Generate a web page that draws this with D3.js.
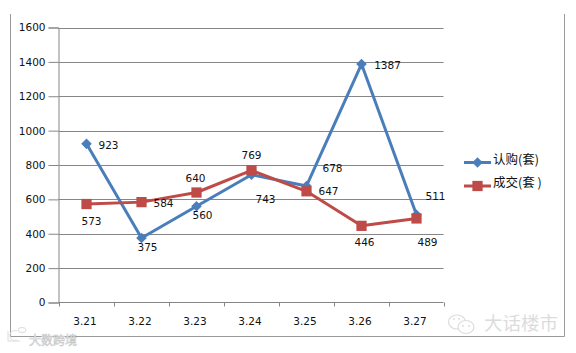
<!DOCTYPE html>
<html>
<head>
<meta charset="utf-8">
<script src="https://cdn.jsdelivr.net/npm/d3@7"></script>
<style>
body { margin: 0; background: #fff; }
text { font-family: "DejaVu Sans", sans-serif; font-size: 10.5px; fill: #111; }
.legend text { font-family: "Noto Sans CJK SC", sans-serif; font-size: 12.5px; }
.mark text { font-family: "Noto Sans CJK SC", sans-serif; }
</style>
</head>
<body>
<svg id="chart" width="576" height="353"></svg>
<script>
const categories = ["3.21", "3.22", "3.23", "3.24", "3.25", "3.26", "3.27"];
const renGou = [923, 375, 560, 743, 678, 1387, 511];
const chengJiao = [573, 584, 640, 769, 647, 446, 489];
const yTicks = [0, 200, 400, 600, 800, 1000, 1200, 1400, 1600];
const seriesNames = ["认购(套)", "成交(套 )"];

// label offsets from the point, placed by hand like the original
const renGouOffsets = [[22, 1], [6, 9], [6, 9], [14, 25], [26, -18], [26, 1.5], [19, -18]];
const chengJiaoOffsets = [[5, 17], [22, 1], [-1, -14.5], [0, -15], [22, 0], [3, 16], [11, 24]];

const margin = {top: 27.5, left: 58.5, right: 132.5, bottom: 50.5};
const width = 576, height = 353;
const blue = "#4a7ebb", red = "#be4b48", grey = "#868686", markGrey = "#dcdcdc";

const svg = d3.select("#chart");

const xScale = d3.scaleBand()
    .domain(categories)
    .range([margin.left, width - margin.right]);

const yScale = d3.scaleLinear()
    .domain([0, 1600])
    .range([height - margin.bottom, margin.top]);

const cx = i => xScale(categories[i]) + xScale.bandwidth() / 2 + 0.5;

// outer frame, top side is missing in the picture
svg.append("path")
    .attr("d", "M10.5,14V336.5H564.5V14")
    .attr("fill", "none")
    .attr("stroke", "#9a9a9a");

svg.append("g")
    .selectAll("line")
    .data(yTicks.slice(1))
    .enter()
    .append("line")
    .attr("x1", margin.left)
    .attr("x2", width - margin.right)
    .attr("y1", d => Math.round(yScale(d)) + 0.5)
    .attr("y2", d => Math.round(yScale(d)) + 0.5)
    .attr("stroke", grey);

const yAxis = svg.append("g")
    .attr("transform", `translate(${margin.left},0)`)
    .call(d3.axisLeft(yScale).tickValues(yTicks).tickFormat(d3.format("d")).tickSize(10).tickPadding(3));
yAxis.select(".domain").attr("stroke", grey);
yAxis.selectAll(".tick line").attr("stroke", grey);

const xAxis = svg.append("g")
    .attr("transform", `translate(0,${height - margin.bottom})`)
    .call(d3.axisBottom(xScale).tickSize(0).tickPadding(15));
xAxis.select(".domain").remove();
xAxis.selectAll(".tick text").attr("dx", -1);
xAxis.append("path")
    .attr("fill", "none")
    .attr("stroke", grey)
    .attr("d", d3.range(categories.length + 1).map(i => {
        const x = Math.round(margin.left + i * xScale.bandwidth()) + 0.5;
        return `M${x},0V4`;
    }).join("") + `M${margin.left},0H${width - margin.right}`);

svg.selectAll("text").attr("font-size", null).attr("font-family", null);

const line = d3.line()
    .x((d, i) => cx(i))
    .y(d => yScale(d));

const series = [
    {name: seriesNames[0], values: renGou, offsets: renGouOffsets, color: blue, size: 56, rotate: 45},
    {name: seriesNames[1], values: chengJiao, offsets: chengJiaoOffsets, color: red, size: 105, rotate: 0}
];

series.forEach(s => {
    svg.append("path")
        .attr("d", line(s.values))
        .attr("fill", "none")
        .attr("stroke", s.color)
        .attr("stroke-width", 3)
        .attr("stroke-linejoin", "round");

    svg.append("g")
        .selectAll("path")
        .data(s.values)
        .enter()
        .append("path")
        .attr("d", d3.symbol().type(d3.symbolSquare).size(s.size))
        .attr("fill", s.color)
        .attr("transform", (d, i) => `translate(${cx(i)},${yScale(d)}) rotate(${s.rotate})`);

    svg.append("g")
        .selectAll("text")
        .data(s.values)
        .enter()
        .append("text")
        .attr("text-anchor", "middle")
        .attr("dy", "0.35em")
        .attr("x", (d, i) => cx(i) + s.offsets[i][0])
        .attr("y", (d, i) => yScale(d) + s.offsets[i][1])
        .text(d => d);
});

const legendY = [162.5, 186];
const legend = svg.append("g").attr("class", "legend");
series.forEach((s, i) => {
    const y = legendY[i];
    legend.append("line")
        .attr("x1", 464).attr("x2", 491)
        .attr("y1", y).attr("y2", y)
        .attr("stroke", s.color)
        .attr("stroke-width", 3);
    legend.append("path")
        .attr("d", d3.symbol().type(d3.symbolSquare).size(s.size))
        .attr("fill", s.color)
        .attr("transform", `translate(477.5,${y}) rotate(${s.rotate})`);
    legend.append("text")
        .attr("x", 493)
        .attr("y", y - 3)
        .attr("dy", "0.35em")
        .text(s.name);
});

// watermarks
const mark = svg.append("g").attr("class", "mark");
mark.append("text")
    .attr("x", 484).attr("y", 330)
    .style("font-size", "18.5px")
    .style("fill", markGrey)
    .text("大话楼市");
mark.append("text")
    .attr("x", 29).attr("y", 345)
    .style("font-size", "12px")
    .style("fill", "#fff")
    .style("stroke", "#c8c8c8")
    .style("stroke-width", 0.6)
    .text("大数跨境");

// wechat bubbles, right one over left one
[[457, 322, 8.5, 7], [466, 327, 8, 6.5]].forEach(b => {
    mark.append("ellipse")
        .attr("cx", b[0]).attr("cy", b[1]).attr("rx", b[2]).attr("ry", b[3])
        .attr("fill", "#fff").attr("stroke", markGrey).attr("stroke-width", 1.2);
});
[[454, 319], [459, 319], [463, 326], [469, 326]].forEach(p => {
    mark.append("circle")
        .attr("cx", p[0]).attr("cy", p[1]).attr("r", 1)
        .attr("fill", markGrey);
});
// small logo at bottom left
mark.append("path")
    .attr("d", "M17,331a5,5 0 1,0 0,9M8,331v10h12")
    .attr("fill", "none")
    .attr("stroke", markGrey);
mark.append("ellipse")
    .attr("cx", 22).attr("cy", 330).attr("rx", 4).attr("ry", 2.5)
    .attr("fill", "none").attr("stroke", markGrey);
</script>
</body>
</html>
